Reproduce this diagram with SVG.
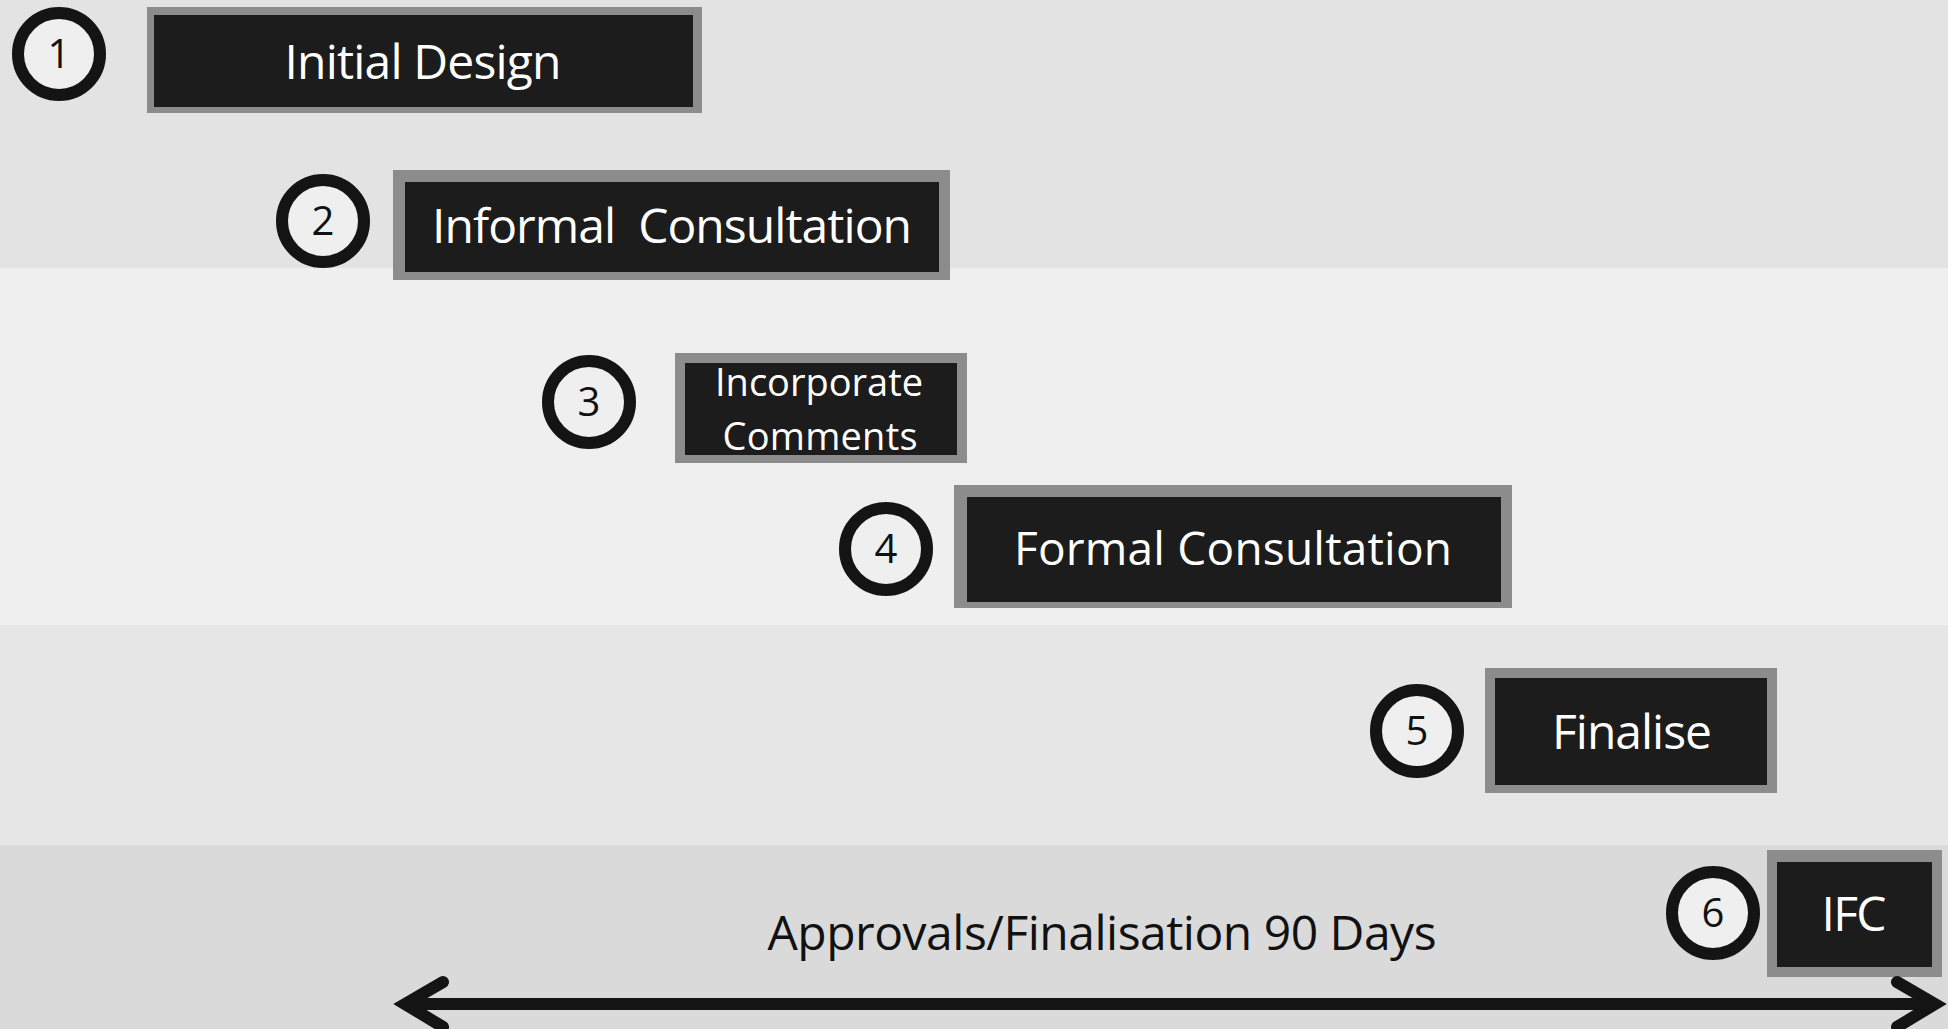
<svg xmlns="http://www.w3.org/2000/svg" width="1948" height="1029" viewBox="0 0 1948 1029">
<style>
.glow{fill:#8c8c8c}
.box{fill:#1c1c1c}
.ring{fill:#efefef;stroke:#141414;stroke-width:12}
.num{font-family:"Open Sans","Noto Sans",sans-serif;font-size:40px;fill:#111;text-anchor:middle}
.lbl{font-family:"Open Sans","Noto Sans",sans-serif;fill:#fff;text-anchor:middle}
.cap{font-family:"Open Sans","Noto Sans",sans-serif;fill:#111;text-anchor:middle;font-size:48px}
.conn{fill:none;stroke:#141414;stroke-width:12;stroke-linecap:round}
</style>
<rect x="0" y="0" width="1948" height="268" fill="#e3e3e3"/>
<rect x="0" y="268" width="1948" height="357" fill="#efefef"/>
<rect x="0" y="625" width="1948" height="220" fill="#e6e6e6"/>
<rect x="0" y="845" width="1948" height="184" fill="#dadada"/>

<g id="step1">
<circle class="ring" cx="59" cy="54" r="41"/>
<text class="num" x="59" y="68">1</text>
<rect class="glow" x="147" y="7" width="555" height="106"/>
<rect class="box" x="154" y="15" width="539" height="92"/>
<text class="lbl" x="423" y="79" font-size="48" textLength="277">Initial Design</text>
</g>

<g id="step2">
<circle class="ring" cx="323" cy="221" r="41"/>
<text class="num" x="323" y="235">2</text>
<rect class="glow" x="393" y="170" width="557" height="110"/>
<rect class="box" x="405" y="182" width="534" height="90"/>
<text class="lbl" x="672" y="243" font-size="48" textLength="480" xml:space="preserve">Informal  Consultation</text>
</g>

<g id="step3">
<circle class="ring" cx="589" cy="402" r="41"/>
<text class="num" x="589" y="416">3</text>
<rect class="glow" x="675" y="353" width="292" height="110"/>
<rect class="box" x="685" y="363" width="272" height="92"/>
<text class="lbl" x="819" y="396" font-size="38" textLength="208">Incorporate</text>
<text class="lbl" x="820" y="450" font-size="38" textLength="195">Comments</text>
</g>

<g id="step4">
<circle class="ring" cx="886" cy="549" r="41"/>
<text class="num" x="886" y="563">4</text>
<rect class="glow" x="954" y="485" width="558" height="123"/>
<rect class="box" x="967" y="497" width="534" height="105"/>
<text class="lbl" x="1233" y="565" font-size="46" textLength="438">Formal Consultation</text>
</g>

<g id="step5">
<circle class="ring" cx="1417" cy="731" r="41"/>
<text class="num" x="1417" y="745">5</text>
<rect class="glow" x="1485" y="668" width="292" height="125"/>
<rect class="box" x="1495" y="678" width="272" height="107"/>
<text class="lbl" x="1632" y="749" font-size="48" textLength="160">Finalise</text>
</g>

<g id="step6">
<circle class="ring" cx="1713" cy="913" r="41"/>
<text class="num" x="1713" y="927">6</text>
<rect class="glow" x="1767" y="850" width="175" height="127"/>
<rect class="box" x="1777" y="862" width="155" height="105"/>
<text class="lbl" x="1854" y="931" font-size="48" textLength="65">IFC</text>
</g>

<g id="connectors">
<line class="conn" x1="408" y1="1004" x2="1930" y2="1004"/>
<polyline class="conn" points="443,982 405,1004 443,1027"/>
<polyline class="conn" points="1897,982 1935,1004 1897,1027"/>
<text class="cap" x="1102" y="950" textLength="669">Approvals/Finalisation 90 Days</text>
</g>
</svg>
